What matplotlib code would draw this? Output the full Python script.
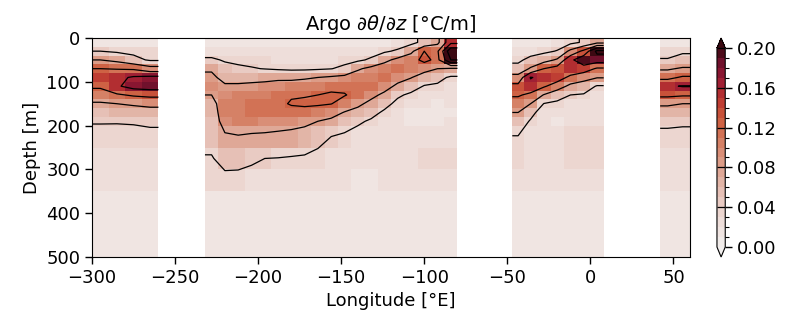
import numpy as np
import matplotlib
matplotlib.use('Agg')
import matplotlib.pyplot as plt
from matplotlib.colors import LinearSegmentedColormap, ListedColormap, BoundaryNorm


# depth bins [m]
depth_edges = [0, 20, 40, 60, 80, 100, 120, 140, 160, 180, 200, 250, 300, 350, 500]
depth_mid = [10, 30, 50, 70, 90, 110, 130, 150, 170, 190, 225, 275, 325, 425]

# longitude bin edges of each data section [deg E]
lon_a = [-300, -290, -280, -270, -260]
lon_b = [-232, -224, -216, -208, -200, -192, -184, -176, -168, -160,
         -152, -144, -136, -128, -120, -112, -104, -96, -88, -80]
lon_c = [-47, -40, -32, -24, -16, -8, 0, 8]
lon_d = [42, 51, 60]

# dtheta/dz [degC/m], one profile per longitude bin (top to bottom)
sec_a = [
    [0.016, 0.040, 0.080, 0.120, 0.140, 0.125, 0.105, 0.075, 0.058, 0.042, 0.031, 0.026, 0.022, 0.014],
    [0.015, 0.035, 0.070, 0.118, 0.150, 0.155, 0.115, 0.080, 0.060, 0.042, 0.030, 0.025, 0.021, 0.014],
    [0.015, 0.032, 0.050, 0.115, 0.165, 0.175, 0.125, 0.085, 0.062, 0.043, 0.030, 0.025, 0.021, 0.014],
    [0.014, 0.030, 0.036, 0.095, 0.170, 0.180, 0.130, 0.090, 0.065, 0.046, 0.031, 0.025, 0.022, 0.014],
]
sec_b = [
    [0.016, 0.026, 0.045, 0.075, 0.088, 0.090, 0.080, 0.068, 0.062, 0.058, 0.050, 0.038, 0.031, 0.018],
    [0.015, 0.024, 0.037, 0.050, 0.068, 0.085, 0.095, 0.100, 0.100, 0.095, 0.075, 0.050, 0.032, 0.017],
    [0.014, 0.022, 0.034, 0.045, 0.068, 0.085, 0.100, 0.105, 0.105, 0.100, 0.078, 0.050, 0.031, 0.015],
    [0.014, 0.022, 0.032, 0.042, 0.068, 0.088, 0.105, 0.110, 0.110, 0.100, 0.075, 0.045, 0.029, 0.014],
    [0.014, 0.021, 0.030, 0.039, 0.070, 0.090, 0.108, 0.112, 0.110, 0.098, 0.074, 0.040, 0.024, 0.014],
    [0.014, 0.021, 0.028, 0.036, 0.072, 0.095, 0.112, 0.115, 0.110, 0.095, 0.072, 0.039, 0.023, 0.013],
    [0.014, 0.020, 0.026, 0.034, 0.070, 0.100, 0.118, 0.122, 0.112, 0.092, 0.070, 0.037, 0.022, 0.013],
    [0.014, 0.020, 0.026, 0.034, 0.075, 0.100, 0.118, 0.125, 0.110, 0.088, 0.066, 0.035, 0.021, 0.013],
    [0.014, 0.020, 0.027, 0.036, 0.080, 0.105, 0.120, 0.124, 0.105, 0.080, 0.052, 0.030, 0.020, 0.013],
    [0.014, 0.021, 0.028, 0.039, 0.085, 0.110, 0.125, 0.121, 0.095, 0.072, 0.040, 0.026, 0.020, 0.013],
    [0.014, 0.022, 0.030, 0.048, 0.090, 0.112, 0.122, 0.105, 0.078, 0.058, 0.034, 0.024, 0.020, 0.013],
    [0.015, 0.024, 0.034, 0.075, 0.100, 0.115, 0.110, 0.088, 0.068, 0.045, 0.028, 0.022, 0.019, 0.013],
    [0.016, 0.027, 0.045, 0.090, 0.108, 0.112, 0.090, 0.070, 0.050, 0.036, 0.025, 0.021, 0.019, 0.013],
    [0.018, 0.035, 0.070, 0.100, 0.110, 0.095, 0.072, 0.050, 0.035, 0.025, 0.022, 0.022, 0.021, 0.013],
    [0.022, 0.045, 0.090, 0.110, 0.095, 0.072, 0.045, 0.032, 0.024, 0.020, 0.022, 0.026, 0.024, 0.013],
    [0.030, 0.070, 0.105, 0.105, 0.082, 0.055, 0.034, 0.024, 0.018, 0.017, 0.024, 0.028, 0.026, 0.014],
    [0.050, 0.120, 0.130, 0.095, 0.060, 0.038, 0.028, 0.020, 0.015, 0.016, 0.026, 0.030, 0.028, 0.014],
    [0.070, 0.115, 0.110, 0.080, 0.050, 0.035, 0.026, 0.018, 0.015, 0.017, 0.028, 0.030, 0.028, 0.014],
    [0.150, 0.230, 0.200, 0.075, 0.035, 0.028, 0.024, 0.020, 0.018, 0.020, 0.028, 0.030, 0.028, 0.014],
]
sec_c = [
    [0.018, 0.024, 0.033, 0.052, 0.095, 0.130, 0.125, 0.100, 0.080, 0.058, 0.039, 0.032, 0.026, 0.015],
    [0.018, 0.026, 0.050, 0.085, 0.162, 0.150, 0.110, 0.080, 0.050, 0.037, 0.026, 0.024, 0.022, 0.015],
    [0.019, 0.032, 0.065, 0.120, 0.150, 0.125, 0.078, 0.039, 0.024, 0.020, 0.020, 0.022, 0.022, 0.015],
    [0.022, 0.042, 0.085, 0.135, 0.140, 0.100, 0.055, 0.033, 0.022, 0.019, 0.020, 0.022, 0.022, 0.015],
    [0.030, 0.090, 0.150, 0.150, 0.110, 0.070, 0.040, 0.028, 0.022, 0.022, 0.032, 0.030, 0.024, 0.015],
    [0.045, 0.130, 0.190, 0.140, 0.095, 0.060, 0.037, 0.028, 0.024, 0.025, 0.034, 0.032, 0.024, 0.015],
    [0.070, 0.210, 0.180, 0.115, 0.082, 0.037, 0.028, 0.025, 0.024, 0.025, 0.034, 0.032, 0.024, 0.015],
]
sec_d = [
    [0.018, 0.030, 0.042, 0.075, 0.110, 0.155, 0.130, 0.085, 0.065, 0.046, 0.033, 0.028, 0.023, 0.015],
    [0.018, 0.036, 0.050, 0.085, 0.125, 0.162, 0.125, 0.080, 0.062, 0.044, 0.033, 0.028, 0.023, 0.015],
]

levels = np.arange(0, 0.201, 0.01)
line_levels = [0.04, 0.08, 0.12, 0.16, 0.20]

# amp-like colormap (white -> red -> dark maroon)
amp = LinearSegmentedColormap.from_list('amp', [
    (0.00, '#f2efee'), (0.15, '#eddbd6'), (0.30, '#e4bbaf'), (0.45, '#da957f'),
    (0.55, '#d47a5e'), (0.65, '#cc5b3d'), (0.75, '#bb3530'), (0.85, '#981a35'),
    (0.93, '#6e102b'), (1.00, '#3c0912')])
cmap = ListedColormap(amp((np.arange(20) + 0.5) / 20))
cmap.set_under(amp(0.0))
cmap.set_over(amp(1.0))
cmap.set_bad('white')
norm = BoundaryNorm(levels, cmap.N)

sections = [(lon_a, sec_a), (lon_b, sec_b), (lon_c, sec_c), (lon_d, sec_d)]
nz = len(depth_mid)

# mesh: sections side by side, empty column in each gap
lon_edges = []
cols = []
for k, (edges, sec) in enumerate(sections):
    lon_edges += edges
    cols += [np.array(c) for c in sec]
    if k < len(sections) - 1:
        cols.append(np.full(nz, np.nan))
Z = np.ma.masked_invalid(np.column_stack(cols))

# contour grid: bin centres, padded out to section edges
xc, zc = [], []
for k, (edges, sec) in enumerate(sections):
    mids = [(edges[i] + edges[i + 1]) / 2 for i in range(len(sec))]
    xc += [edges[0]] + mids + [edges[-1]]
    zc += [sec[0]] + sec + [sec[-1]]
    if k < len(sections) - 1:
        xc.append((edges[-1] + sections[k + 1][0][0]) / 2)
        zc.append([np.nan] * nz)
zc = np.array(zc).T
zc = np.vstack([zc[:1], zc, zc[-1:]])
yc = [0] + depth_mid + [500]
zc = np.ma.masked_invalid(zc)

plt.rcParams['font.size'] = 13
fig = plt.figure(figsize=(7.89, 3.22), dpi=100)
ax = fig.add_axes([0.1166, 0.2019, 0.758, 0.680])
cax = fig.add_axes([0.9087, 0.2019, 0.0105, 0.680])

pcm = ax.pcolormesh(lon_edges, depth_edges, Z, cmap=cmap, norm=norm, shading='flat')
cs = ax.contour(xc, yc, zc, levels=line_levels, colors='k', linewidths=0.9)

ax.set_xlim(-300, 60)
ax.set_ylim(500, 0)
ax.set_xticks(np.arange(-300, 51, 50))
ax.set_yticks(np.arange(0, 501, 100))
ax.set_xlabel('Longitude [°E]')
ax.set_ylabel('Depth [m]')
ax.set_title(r'Argo $\partial\theta/\partial z$ [°C/m]', fontsize=14)
ax.tick_params(length=5, width=1)

cb = fig.colorbar(pcm, cax=cax, extend='both', ticks=np.arange(0, 0.201, 0.04))
cb.ax.set_yticks(levels, minor=True)
cb.ax.set_yticklabels(['%.2f' % t for t in np.arange(0, 0.201, 0.04)])
cb.ax.tick_params(which='major', length=5, width=1)
cb.ax.tick_params(which='minor', length=3, width=0.8)
cb.add_lines(cs)

fig.savefig('out.png', dpi=100)
